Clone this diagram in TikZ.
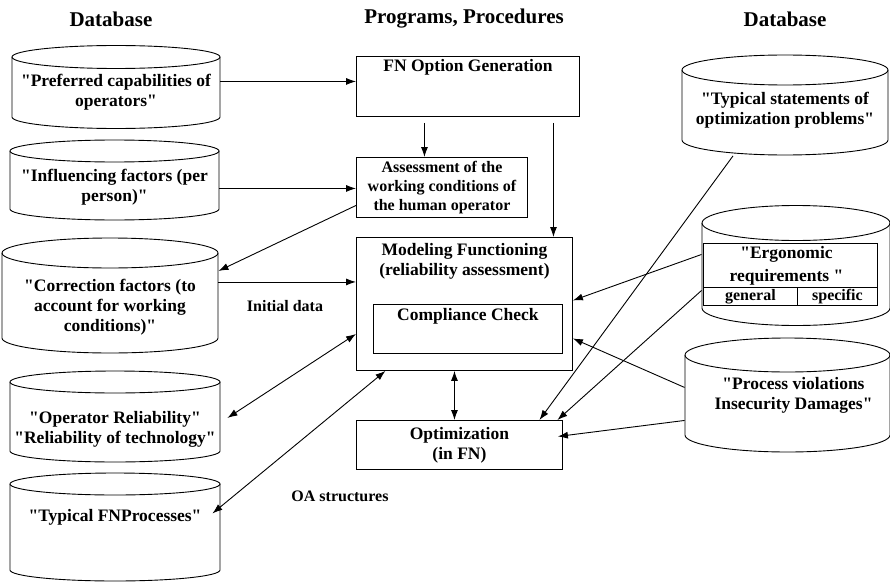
\documentclass[tikz,border=0pt]{standalone}
\usepackage{fontspec}
\setmainfont{Liberation Serif}
\newfontfamily\diagfont{Liberation Serif}
\usetikzlibrary{arrows.meta}

% database drum: name, centre x, top y, bottom y, x radius, y radius (px, y down)
\newcommand{\dbcyl}[6]{%
  \draw (#2-#5,-#3) -- (#2-#5,-#4) arc[start angle=180,end angle=360,x radius=#5,y radius=#6] -- (#2+#5,-#3);
  \draw (#2,-#3) ellipse[x radius=#5,y radius=#6];
  \node[inner sep=0pt,minimum width=2*#5,minimum height=#4-#3,anchor=north] (#1) at (#2,-#3) {};
}

\begin{document}
\begin{tikzpicture}[x=1pt,y=1pt,line width=0.9pt,
  box/.style={draw,inner sep=0pt,anchor=north west},
  txt/.style={font=\diagfont\fontsize{17.5}{20}\selectfont\bfseries,align=center,inner sep=0pt},
  small/.style={font=\diagfont\fontsize{16}{19}\selectfont\bfseries,align=center,inner sep=0pt},
  head/.style={font=\diagfont\fontsize{21}{24}\selectfont\bfseries,inner sep=0pt},
  arr/.style={-{Latex[length=10pt,width=7pt]}},
  darr/.style={{Latex[length=10pt,width=7pt]}-{Latex[length=10pt,width=7pt]}}]
\useasboundingbox (0,0) rectangle (890,-583);

% headings
\node[head] (dbl) at (111,-19) {Database};
\node[head] (prog) at (464,-19) {Programs, Procedures};
\node[head] (dbr) at (785,-19) {Database};

% databases, left
\dbcyl{pref}{116}{57}{117}{104}{11.5}
\dbcyl{infl}{114.5}{151}{209}{104.5}{11}
\dbcyl{corr}{110}{253}{338}{108}{15}
\dbcyl{oprel}{115}{382}{451}{105}{11}
\dbcyl{typproc}{115}{484}{570}{105}{11}
\node[txt] (preft) at ([yshift=-5]pref.center) {"Preferred capabilities of\\operators"};
\node[txt] (inflt) at ([yshift=-7]infl.center) {"Influencing factors (per\\person)"};
\node[txt] (corrt) at ([yshift=-11.5]corr.center) {"Correction factors (to\\account for working\\conditions)"};
\node[txt] (oprelt) at ([yshift=-12]oprel.center) {"Operator Reliability"\\"Reliability of technology"};
\node[txt] (typproct) at ([yshift=10]typproc.center) {"Typical FNProcesses"};

% programs, procedures
\node[box,minimum width=223,minimum height=60] (gen) at (356,-56) {};
\node[txt] (gent) at ([yshift=-11]gen.north) {FN Option Generation};
\node[box,small,minimum width=171,minimum height=60] (asm) at (356,-157) {Assessment of the\\working conditions of\\the human operator};
\node[box,minimum width=216,minimum height=133] (mod) at (356,-237) {};
\node[txt] (modt) at ([yshift=-24]mod.north) {Modeling Functioning\\(reliability assessment)};
\node[box,minimum width=189,minimum height=49] (chk) at (373,-304) {};
\node[txt] (chkt) at ([yshift=-12]chk.north) {Compliance Check};
\node[box,txt,minimum width=206,minimum height=49] (opt) at (356,-420) {Optimization\\(in FN)};

\node[small] (init) at (285,-306) {Initial data};
\node[small] (oas) at (340,-496) {OA structures};

% databases, right
\dbcyl{stat}{785}{70}{140}{103}{15}
\dbcyl{ergo}{796}{223}{308}{94}{17.5}
\dbcyl{viol}{787.5}{355}{435}{102.5}{17}
\node[txt] (statt) at ([yshift=-5]stat.center) {"Typical statements of\\optimization problems"};
\node[box,fill=white,minimum width=174,minimum height=44] (ergtab) at (703,-243) {};
\node[txt,font=\diagfont\fontsize{17.5}{23}\selectfont\bfseries] (ergt) at ([xshift=-4]ergtab.center) {"Ergonomic\\requirements "};
\node[box,small,fill=white,minimum width=94,minimum height=18] (ergg) at (703,-287) {general};
\node[box,small,fill=white,minimum width=80,minimum height=18] (ergs) at (797,-287) {specific};
\node[txt] (violt) at ([xshift=6]viol.center) {"Process violations\\Insecurity Damages"};

% connectors
\draw[arr] ([yshift=6]pref.east) -- ([yshift=6]pref.east -| gen.west);
\draw[arr] ([yshift=-8]infl.east) -- ([yshift=-8]infl.east -| asm.west);
\draw[arr] ([yshift=-18]asm.west) -- ([yshift=25]corr.east);
\draw[arr] ([yshift=14]corr.east) -- ([yshift=14]corr.east -| mod.west);
\draw[darr] ([xshift=7,yshift=-1]oprel.east) -- ([yshift=-30]mod.west);
\draw[darr] ([xshift=-8,yshift=14]typproc.east) -- ([xshift=-79]mod.south);
\draw[arr] ([xshift=-43.5,yshift=-6]gen.south) -- ([xshift=-17.5]asm.north);
\draw[arr] ([xshift=85.5,yshift=-6]gen.south) -- ([xshift=89]mod.north);
\draw[darr] ([xshift=-10]mod.south) -- ([xshift=-5]opt.north);
\draw[arr] ([yshift=11.5]ergo.west) -- ([yshift=3.5]mod.east);
\draw[arr] ([yshift=8]viol.west) -- ([yshift=-34.5]mod.east);
\draw[arr] ([yshift=-25]viol.west) -- ([xshift=-5,yshift=8.5]opt.east);
\draw[arr] ([xshift=-52,yshift=-15]stat.south) -- ([xshift=80]opt.north);
\draw[arr] ([yshift=-24.5]ergo.west) -- ([xshift=98]opt.north);
\end{tikzpicture}
\end{document}
